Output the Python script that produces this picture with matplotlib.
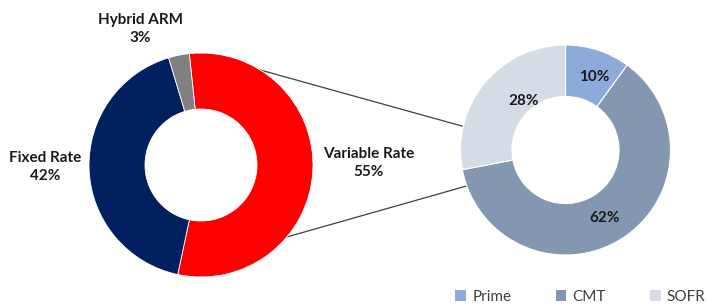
import numpy as np
import matplotlib
matplotlib.use("Agg")
import matplotlib.pyplot as plt
from matplotlib.patches import Patch

# Data
main_labels = ["Variable Rate", "Fixed Rate", "Hybrid ARM"]
main_values = [55, 42, 3]
main_colors = ["#ff0000", "#002060", "#808080"]

sub_labels = ["Prime", "CMT", "SOFR"]
sub_values = [10, 62, 28]
sub_colors = ["#8eaadb", "#8497b0", "#d6dce5"]

W, H = 708, 307
fig = plt.figure(figsize=(W / 100, H / 100), dpi=100)
ax = fig.add_axes([0, 0, 1, 1])

c1, r1 = (201, 142), 112
c2, r2 = (565.5, 157), 105

ax.pie(main_values, colors=main_colors, startangle=96, counterclock=False,
       center=c1, radius=r1, wedgeprops=dict(width=r1 * 0.5, edgecolor="white", linewidth=0.6),
       frame=True)
ax.pie(sub_values, colors=sub_colors, startangle=90, counterclock=False,
       center=c2, radius=r2, wedgeprops=dict(width=r2 * 0.49, edgecolor="white", linewidth=0.8),
       frame=True)
ax.set_xlim(0, W)
ax.set_ylim(0, H)
ax.set_aspect("equal")
ax.axis("off")

# connector lines
def pt(c, r, deg):
    a = np.deg2rad(deg)
    return c[0] + r * np.cos(a), c[1] + r * np.sin(a)

for a1, a2 in [(58, 167), (-40, -160)]:
    p1 = pt(c1, r1, a1)
    p2 = pt(c2, r2, a2)
    ax.plot([p1[0], p2[0]], [p1[1], p2[1]], color="#404040", lw=0.9, zorder=0)

fam = ["Lato", "DejaVu Sans"]
tcol = "#1a1a1a"
fs = 11
ls = 1.45
ax.text(140, H - 29, "Hybrid ARM\n3%", ha="center", va="center", fontsize=fs,
        fontweight="bold", family=fam, color=tcol, linespacing=ls)
ax.text(45, H - 167, "Fixed Rate\n42%", ha="center", va="center", fontsize=fs,
        fontweight="bold", family=fam, color=tcol, linespacing=ls)
ax.text(369, H - 163, "Variable Rate\n55%", ha="center", va="center", fontsize=fs,
        fontweight="bold", family=fam, color=tcol, linespacing=ls)

ax.text(594, H - 77, "10%", ha="center", va="center", fontsize=fs, fontweight="bold", family=fam, color=tcol)
ax.text(524, H - 101, "28%", ha="center", va="center", fontsize=fs, fontweight="bold", family=fam, color=tcol)
ax.text(605, H - 218, "62%", ha="center", va="center", fontsize=fs, fontweight="bold", family=fam, color=tcol)

handles = [Patch(facecolor=c, edgecolor="none") for c in sub_colors]
leg = fig.legend(handles, sub_labels, loc="center", bbox_to_anchor=(0.82, 0.033), ncol=3,
                 frameon=False, handlelength=0.7, handleheight=0.7, handletextpad=0.4,
                 columnspacing=2.9, prop=dict(family=fam, size=11))
for t in leg.get_texts():
    t.set_color("#404040")

fig.savefig("out.png", dpi=100)
